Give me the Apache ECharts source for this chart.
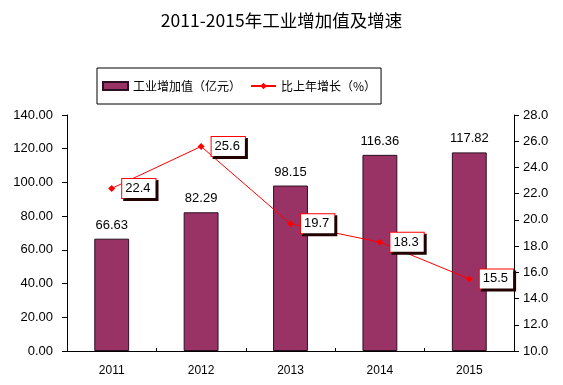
<!DOCTYPE html>
<html><head><meta charset="utf-8">
<script src="https://cdn.jsdelivr.net/npm/echarts@6/dist/echarts.min.js"></script>
<style>html,body{margin:0;padding:0;background:#fff}#c{width:563px;height:385px}</style>
</head><body><div id="c"></div>
<script>
const categories = ['2011','2012','2013','2014','2015'];
const valueAdded = [66.63, 82.29, 98.15, 116.36, 117.82];
const growth = [22.4, 25.6, 19.7, 18.3, 15.5];
const barName = '工业增加值（亿元）';
const lineName = '比上年增长（%）';
const titleText = '2011-2015年工业增加值及增速';

const font = '"Liberation Sans", Arial, "Noto Sans CJK SC", sans-serif';
const cjk = '"Noto Sans CJK SC", sans-serif';
const chart = echarts.init(document.getElementById('c'));
chart.setOption({
  animation: false,
  backgroundColor: '#fff',
  title: {text: titleText, left: 'center', top: 7,
    textStyle: {fontFamily: cjk, fontWeight: 'normal', fontSize: 17.5, color: '#000'}},
  legend: {
    orient: 'horizontal',
    left: 97, top: 68,
    padding: [12, 5, 12, 5], itemGap: 9,
    borderColor: '#000', borderWidth: 1,
    itemWidth: 25, itemHeight: 8,
    textStyle: {fontFamily: cjk, fontSize: 12, color: '#000'},
    data: [{name: barName, icon: 'rect'}, {name: lineName}]
  },
  grid: {left: 67, right: 49, top: 115, bottom: 34},
  xAxis: {
    type: 'category', data: categories,
    axisLine: {lineStyle: {color: '#000'}},
    axisTick: {show: true, inside: true, length: 3, lineStyle: {color: '#000'}},
    axisLabel: {fontFamily: font, fontSize: 12, color: '#000', margin: 14}
  },
  yAxis: [
    {type: 'value', min: 0, max: 140, interval: 20,
      axisLine: {show: true, lineStyle: {color: '#000'}},
      axisTick: {show: true, length: 5, lineStyle: {color: '#000'}},
      splitLine: {show: false},
      axisLabel: {fontFamily: font, fontSize: 13, color: '#000', margin: 14, formatter: v => v.toFixed(2)}},
    {type: 'value', min: 10, max: 28, interval: 2,
      axisLine: {show: true, lineStyle: {color: '#000'}},
      axisTick: {show: true, length: 5, lineStyle: {color: '#000'}},
      splitLine: {show: false},
      axisLabel: {fontFamily: font, fontSize: 13, color: '#000', margin: 9, formatter: v => v.toFixed(1)}}
  ],
  series: [
    {name: barName, type: 'bar', data: valueAdded, barWidth: '39%',
      itemStyle: {color: '#993366', borderColor: '#2a1020', borderWidth: 1},
      label: {show: true, position: 'top', distance: 7, fontFamily: font, fontSize: 13, color: '#000',
        formatter: p => p.value.toFixed(2)}},
    {name: lineName, type: 'line', yAxisIndex: 1, data: growth,
      symbol: 'diamond', symbolSize: 7,
      lineStyle: {color: '#ff0000', width: 1},
      itemStyle: {color: '#ff0000'},
      label: {show: true, position: 'right', distance: 7, fontFamily: font, fontSize: 13, color: '#000',
        backgroundColor: '#fff', borderColor: '#ff0000', borderWidth: 1, padding: [3, 5, 3, 3],
        shadowColor: '#200', shadowOffsetX: 2, shadowOffsetY: 2,
        formatter: p => p.value.toFixed(1)}}
  ]
});
</script></body></html>
